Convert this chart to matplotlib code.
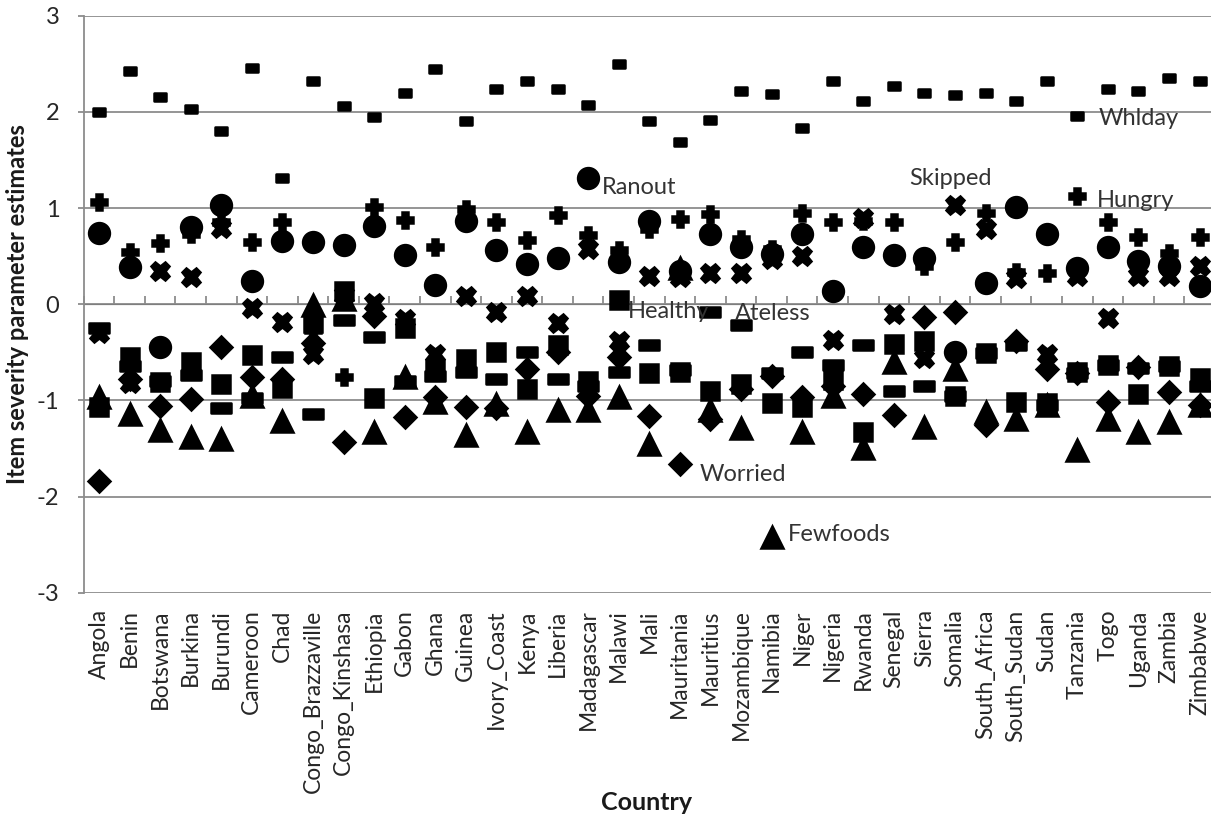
import matplotlib
matplotlib.use("Agg")
import matplotlib.pyplot as plt
import numpy as np
from matplotlib.path import Path

countries = ["Angola", "Benin", "Botswana", "Burkina", "Burundi", "Cameroon", "Chad",
             "Congo_Brazzaville", "Congo_Kinshasa", "Ethiopia", "Gabon", "Ghana", "Guinea",
             "Ivory_Coast", "Kenya", "Liberia", "Madagascar", "Malawi", "Mali", "Mauritania",
             "Mauritius", "Mozambique", "Namibia", "Niger", "Nigeria", "Rwanda", "Senegal",
             "Sierra", "Somalia", "South_Africa", "South_Sudan", "Sudan", "Tanzania", "Togo",
             "Uganda", "Zambia", "Zimbabwe"]

whlday = [2.00, 2.42, 2.15, 2.03, 1.80, 2.46, 1.31, 2.32, 2.06, 1.95, 2.20, 2.45, 1.90,
          2.24, 2.32, 2.24, 2.07, 2.50, 1.90, 1.69, 1.92, 2.22, 2.19, 1.83, 2.32, 2.11, 2.27,
          2.20, 2.18, 2.20, 2.11, 2.32, 1.96, 2.24, 2.22, 2.35, 2.32]
hungry = [1.06, 0.54, 0.64, 0.73, 0.85, 0.65, 0.85, -0.27, -0.76, 1.01, 0.88, 0.59, 0.99,
          0.85, 0.67, 0.93, 0.72, 0.56, 0.78, 0.89, 0.94, 0.68, 0.57, 0.95, 0.85, 0.87, 0.85,
          0.40, 0.65, 0.95, 0.33, 0.32, 1.13, 0.85, 0.70, 0.53, 0.70]
ranout = [0.74, 0.39, -0.45, 0.80, 1.03, 0.24, 0.66, 0.65, 0.62, 0.81, 0.51, 0.20, 0.87,
          0.56, 0.42, 0.48, 1.31, 0.44, 0.86, 0.35, 0.73, 0.60, 0.52, 0.73, 0.14, 0.59, 0.51,
          0.48, -0.50, 0.22, 1.01, 0.73, 0.38, 0.60, 0.45, 0.40, 0.19]
skipped = [-0.30, -0.82, 0.35, 0.28, 0.79, -0.04, -0.19, -0.52, 0.10, 0.01, -0.15, -0.52, 0.09,
           -0.08, 0.09, -0.20, 0.57, -0.38, 0.29, 0.28, 0.32, 0.32, 0.47, 0.50, -0.37, 0.90, -0.10,
           -0.56, 1.03, 0.78, 0.27, -0.52, 0.29, -0.14, 0.29, 0.29, 0.40]
healthy = [-1.07, -0.55, -0.81, -0.60, -0.83, -0.53, -0.87, -0.20, 0.14, -0.98, -0.25, -0.67, -0.57,
           -0.50, -0.88, -0.42, -0.80, 0.04, -0.72, -0.70, -0.90, -0.83, -1.03, -1.07, -0.79, -1.33, -0.41,
           -0.38, -0.95, -0.51, -1.02, -1.03, -0.70, -0.63, -0.93, -0.64, -0.77]
ateless = [-0.25, -0.64, -0.80, -0.74, -1.08, -0.98, -0.55, -1.14, -0.16, -0.34, -0.80, -0.75, -0.70,
           -0.78, -0.50, -0.78, -0.85, -0.70, -0.42, -0.68, -0.08, -0.22, -0.72, -0.50, -0.63, -0.42, -0.90,
           -0.85, -0.95, -0.51, -0.42, -1.05, -0.72, -0.63, -0.66, -0.64, -0.85]
worried = [-1.84, -0.78, -1.06, -0.99, -0.45, -0.76, -0.78, -0.40, -1.43, -0.12, -1.17, -0.97, -1.07,
           -1.08, -0.67, -0.50, -0.95, -0.55, -1.16, -1.66, -1.19, -0.88, -0.75, -0.97, -0.85, -0.93, -1.15,
           -0.13, -0.08, -1.26, -0.38, -0.67, -0.72, -1.02, -0.65, -0.91, -1.05]
fewfoods = [-0.97, -1.14, -1.31, -1.38, -1.40, -0.95, -1.21, -0.01, 0.05, -1.33, -0.76, -1.02, -1.36,
            -1.04, -1.33, -1.10, -1.10, -0.96, -1.45, 0.38, -1.10, -1.29, -2.42, -1.33, -0.95, -1.50, -0.60,
            -1.28, -0.67, -1.12, -1.19, -1.05, -1.52, -1.19, -1.33, -1.22, -1.05]

yticks = [-3, -2, -1, 0, 1, 2, 3]

FONT = ["Lato", "DejaVu Sans"]
plt.rcParams['font.family'] = FONT

W, H = 1211, 818
fig = plt.figure(figsize=(W / 100, H / 100), dpi=100)
left_px, right_px, top_px, bot_px = 83.7, 1214.8, 15.7, 592.7
ax = fig.add_axes([left_px / W, (H - bot_px) / H, (right_px - left_px) / W, (bot_px - top_px) / H])

n = len(countries)
x = np.arange(n)
ax.set_xlim(-0.5, n - 0.5)
ax.set_ylim(-3, 3)

grid_c = "#8c8c8c"
for yv in yticks:
    ax.axhline(yv, color=grid_c, lw=1.3, zorder=1)

def dash(h):
    return Path([(-1, -h), (1, -h), (1, h), (-1, h), (-1, -h)],
                [Path.MOVETO, Path.LINETO, Path.LINETO, Path.LINETO, Path.CLOSEPOLY])

series = [
    (worried, dict(marker='D', ms=11.0)),
    (healthy, dict(marker='s', ms=13.0)),
    (fewfoods, dict(marker='^', ms=15.5)),
    (skipped, dict(marker='X', ms=13.5)),
    (ranout, dict(marker='o', ms=15.0)),
    (ateless, dict(marker=dash(0.5), ms=14.0)),
    (hungry, dict(marker='P', ms=12.0)),
    (whlday, dict(marker=dash(0.68), ms=9.0)),
]
for vals, st in series:
    ln, = ax.plot(x, vals, linestyle='none', color='black', mfc='black', mec='black',
                  mew=1.8, zorder=3, **st)
    ln.set_solid_joinstyle('round')

# spines
for s in ['top', 'right', 'bottom']:
    ax.spines[s].set_visible(False)
ax.spines['left'].set_color(grid_c)
ax.spines['left'].set_linewidth(1.3)

ax.set_yticks(yticks)
ax.set_yticklabels([str(v) for v in yticks])
ax.tick_params(axis='y', length=4.5, width=1.3, color=grid_c, pad=13,
               labelsize=17, labelcolor='#262626')

ax.set_xticks(x)
ax.set_xticklabels(countries, rotation=90, ha='center', va='top')
ax.tick_params(axis='x', length=0, pad=12, labelsize=16.5, labelcolor='#262626')

# category axis line at y = 0 with boundary ticks
sec = ax.secondary_xaxis(0.5)
sec.set_xticks(np.arange(n + 1) - 0.5)
sec.set_xticklabels([])
sec.tick_params(axis='x', direction='out', length=5.5, width=1.3, color=grid_c)
sec.spines['bottom'].set_color(grid_c)
sec.spines['bottom'].set_linewidth(1.3)

ax.set_ylabel("Item severity parameter estimates", fontsize=17, fontweight='bold',
              color='#1a1a1a')
ax.yaxis.set_label_coords(-(left_px - 29) / (right_px - left_px), 0.5)
fig.text(647 / W, 1 - 803 / H, "Country", fontsize=18, fontweight='bold',
         color='#1a1a1a', ha='center', va='center')

# data labels
lab_c = "#333333"
p = 0.72
def label(text, xi, yv, dx, dy, ha='left'):
    ax.annotate(text, (xi, yv), xytext=(dx * p, dy * p), textcoords='offset points',
                ha=ha, va='center', fontsize=17, color=lab_c, zorder=5)

ti = countries.index
label("Whlday", ti("Tanzania"), whlday[ti("Tanzania")], 21, -3)
label("Hungry", ti("Tanzania"), hungry[ti("Tanzania")], 20, -5)
label("Ranout", ti("Madagascar"), ranout[ti("Madagascar")], 14, -9)
label("Skipped", ti("Somalia"), skipped[ti("Somalia")], -4, 27, ha='center')
label("Healthy", ti("Malawi"), healthy[ti("Malawi")], 9, -11)
label("Ateless", ti("Mauritius"), ateless[ti("Mauritius")], 25, -2)
label("Worried", ti("Mauritania"), worried[ti("Mauritania")], 20, -11)
label("Fewfoods", ti("Namibia"), fewfoods[ti("Namibia")], 16, 2)

fig.savefig("out.png", dpi=100)
